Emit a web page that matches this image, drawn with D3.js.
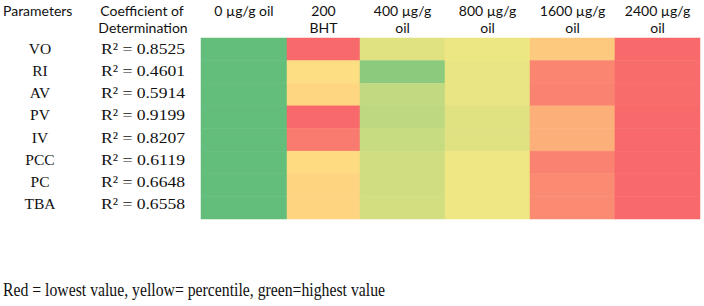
<!DOCTYPE html>
<html>
<head>
<meta charset="utf-8">
<script src="https://cdn.jsdelivr.net/npm/d3@7"></script>
<style>
  body { margin: 0; background: #fff; }
  .head { font-family: Lato, 'Open Sans', sans-serif; font-size: 14px; fill: #111; }
  .row { font-family: 'Liberation Serif', 'Times New Roman', serif; font-size: 15.5px; fill: #111; }
  .note { font-family: 'Liberation Serif', 'Times New Roman', serif; font-size: 19px; fill: #111; }
</style>
</head>
<body>
<svg width="704" height="306"></svg>
<script>
//## DATA ##
const parameters = ['VO', 'RI', 'AV', 'PV', 'IV', 'PCC', 'PC', 'TBA']
const rSquared = ['0.8525', '0.4601', '0.5914', '0.9199', '0.8207', '0.6119', '0.6648', '0.6558']
const doses = ['0', '200BHT', '400', '800', '1600', '2400']
const doseLabels = [['0 µg/g oil', ''], ['200', 'BHT'], ['400 µg/g', 'oil'], ['800 µg/g', 'oil'], ['1600 µg/g', 'oil'], ['2400 µg/g', 'oil']]
// colour score per cell: 0 = lowest (red), 0.5 = percentile (yellow), 1 = highest (green)
const score0 = [1, 1, 1, 1, 1, 1, 1, 1]
const score200BHT = [0, 0.45, 0.42, 0, 0.07, 0.44, 0.41, 0.41]
const score400 = [0.6, 0.87, 0.7, 0.71, 0.68, 0.65, 0.65, 0.64]
const score800 = [0.56, 0.57, 0.57, 0.6, 0.6, 0.55, 0.55, 0.55]
const score1600 = [0.37, 0.11, 0.1, 0.27, 0.27, 0.1, 0.13, 0.13]
const score2400 = [0, 0.01, 0.01, 0, 0, 0, 0, 0]
const scores = [score0, score200BHT, score400, score800, score1600, score2400]
const note = 'Red = lowest value, yellow= percentile, green=highest value'

//## LAYOUT ##
const svg = d3.select('svg')
const grid = { left: 201, right: 700, top: 38, bottom: 219 }
const colWidths = [86, 73, 85, 85, 85, 85] // BHT column is a bit narrower
const colEdges = d3.cumsum([0, ...colWidths])

const cells = []
doses.forEach((dose, c) => {
  parameters.forEach((p, r) => cells.push({ dose: dose, col: c, param: p, value: scores[c][r] }))
})

//-- Scales --
const scaleX = d3.scaleLinear()
  .domain([0, d3.sum(colWidths)])
  .range([grid.left, grid.right])

const scaleY = d3.scaleBand()
  .domain(parameters)
  .range([grid.top, grid.bottom])

// the row labels sit on a slightly tighter pitch than the cells
const labelY = d3.scaleBand()
  .domain(parameters)
  .range([grid.top, 215])

const colorScale = d3.scaleLinear()
  .domain([0, 0.5, 1])
  .range(['#F8696B', '#FFEB84', '#63BE7B'])

//## DRAW ##
svg.append('g').selectAll('rect').data(cells)
  .enter().append('rect')
    .attr('x', d => scaleX(colEdges[d.col]))
    .attr('y', d => scaleY(d.param))
    .attr('width', d => scaleX(colEdges[d.col + 1]) - scaleX(colEdges[d.col]))
    .attr('height', scaleY.bandwidth())
    .attr('fill', d => colorScale(d.value))
    .attr('stroke', d => colorScale(d.value))
    .attr('stroke-width', 0.5)

// header row
const head = svg.append('g').attr('class', 'head')
head.append('text').attr('x', 3).attr('y', 16).text('Parameters')
head.append('text').attr('x', 142).attr('y', 16).attr('text-anchor', 'middle').text('Coefficient of')
head.append('text').attr('x', 143).attr('y', 33).attr('text-anchor', 'middle').text('Determination')

head.selectAll('.dose').data(doseLabels)
  .enter().append('text')
    .attr('class', 'dose')
    .attr('text-anchor', 'middle')
    .attr('x', (d, i) => (scaleX(colEdges[i]) + scaleX(colEdges[i + 1])) / 2)
    .attr('y', 16)
    .each(function(d) {
      d3.select(this).append('tspan').text(d[0])
      if (d[1]) {
        d3.select(this).append('tspan')
          .attr('x', d3.select(this).attr('x'))
          .attr('y', 33)
          .text(d[1])
      }
    })

// row labels
const rows = svg.append('g').attr('class', 'row')
rows.selectAll('.param').data(parameters)
  .enter().append('text')
    .attr('text-anchor', 'middle')
    .attr('x', 40)
    .attr('y', d => labelY(d) + labelY.bandwidth() / 2 + 5)
    .text(d => d)

rows.selectAll('.r2').data(rSquared)
  .enter().append('text')
    .attr('x', 101)
    .attr('y', (d, i) => labelY(parameters[i]) + labelY.bandwidth() / 2 + 5)
    .attr('textLength', 84)
    .attr('lengthAdjust', 'spacingAndGlyphs')
    .text(d => 'R² = ' + d)

svg.append('text')
  .attr('class', 'note')
  .attr('x', 3)
  .attr('y', 296)
  .attr('textLength', 382)
  .attr('lengthAdjust', 'spacingAndGlyphs')
  .text(note)
</script>
</body>
</html>
